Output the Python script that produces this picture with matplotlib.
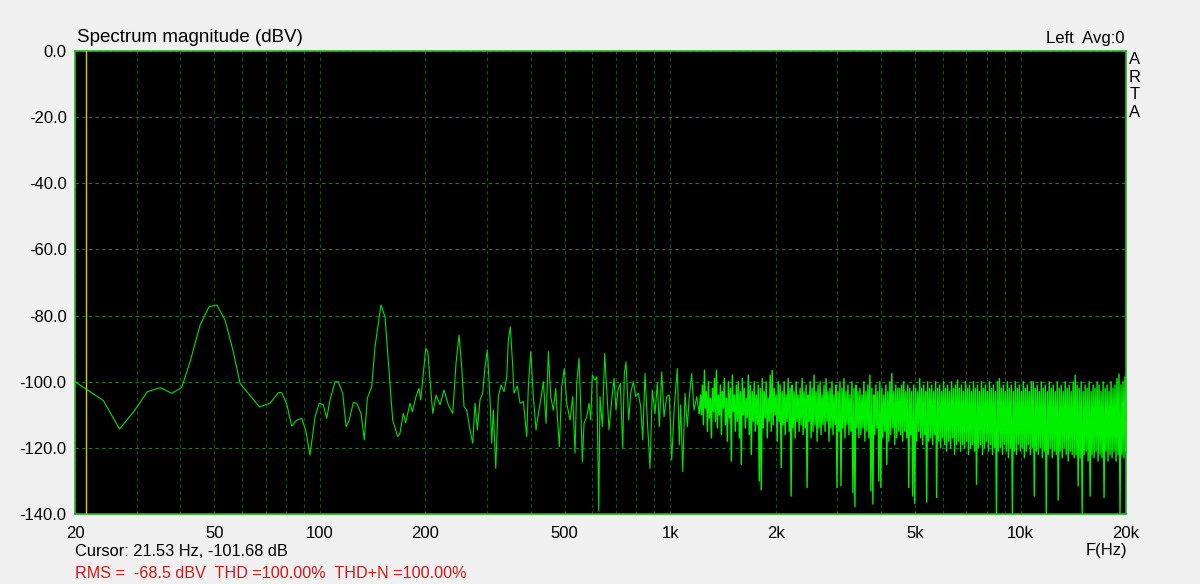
import matplotlib
matplotlib.use("Agg")
import matplotlib.pyplot as plt
import numpy as np
from matplotlib.ticker import FixedLocator, NullFormatter

# spectrum (Hz, dBV)
low_freq = [20.0, 24.1, 26.8, 29.4, 32.2, 35.0, 37.8, 40.3, 42.6, 45.5,
            48.3, 50.8, 53.6, 56.6, 59.2, 67.2, 72.1, 76.1, 77.8, 80.4,
            83.1, 85.9, 88.8, 91.3, 93.7, 96.9, 99.6, 102.3, 104.6, 106.9,
            110.5, 112.9, 116.2, 118.8, 121.3, 124.6, 127.4, 131.1, 133.9, 136.6,
            140.6, 143.7, 149.4, 153.4, 161.4, 166.8, 169.3, 173.0, 175.8, 180.8,
            183.6, 188.1, 191.9, 194.0, 200.6, 203.2, 210.0, 214.6]
low_db = [-100.0, -105.7, -114.3, -109.1, -103.0, -101.8, -103.5, -101.8, -94.0, -82.9,
          -77.3, -76.8, -81.3, -90.9, -100.5, -107.6, -106.5, -103.3, -103.3, -106.7,
          -113.4, -111.6, -111.1, -115.1, -122.2, -110.6, -106.5, -107.0, -111.1, -105.5,
          -100.0, -100.0, -103.5, -113.6, -111.6, -106.3, -106.5, -109.6, -117.6, -105.0,
          -101.5, -89.4, -76.8, -80.3, -111.6, -116.6, -115.6, -109.6, -112.4, -106.5,
          -109.1, -104.5, -102.0, -105.5, -89.9, -90.9, -109.6, -104.0]

mid_freq = [220.3, 226.1, 232.6, 239.5, 244.7, 249.6, 254.1, 257.9, 262.6, 268.3,
            273.1, 277.3, 281.5, 286.5, 291.6, 296.1, 300.6, 306.0, 309.4, 312.7,
            317.7, 323.1, 328.9, 335.5, 341.5, 345.1, 349.7, 355.2, 358.3, 366.1,
            372.7, 380.9, 389.5, 393.6, 399.9, 406.8, 414.0, 420.4, 429.9, 434.4,
            442.2, 448.9, 456.0, 463.9, 471.3, 476.3, 482.6, 490.2, 498.6, 506.6,
            517.7, 527.0, 535.0, 541.0, 549.2, 555.4, 561.3, 567.6, 577.8, 586.6,
            593.2, 599.4, 610.2, 617.0, 625.2, 630.5, 640.1, 650.3, 658.9, 668.9,
            680.9, 691.3, 700.4, 709.6, 720.4, 731.9, 739.6, 747.9, 761.3, 771.4,
            784.7, 797.2, 810.9, 823.8, 834.7, 847.4, 860.3, 875.7, 889.0, 904.9,
            918.7, 930.9, 945.7, 960.1, 977.2, 994.1, 1009.9, 1027.3, 1047.7, 1061.6,
            1071.4, 1085.6, 1102.1, 1118.9, 1133.7, 1151.7, 1169.3, 1190.2, 1210.7]
mid_db = [-107.0, -102.5, -107.0, -109.6, -94.4, -85.9, -95.7, -107.5, -108.6, -114.6,
          -118.6, -106.5, -114.6, -105.5, -103.5, -95.5, -90.4, -105.5, -118.6, -108.6,
          -126.2, -104.5, -101.0, -103.0, -98.5, -87.4, -83.4, -95.5, -103.5, -101.3,
          -106.5, -106.0, -116.6, -101.5, -90.9, -104.5, -114.6, -109.6, -103.5, -100.0,
          -112.6, -90.9, -104.5, -108.6, -102.0, -110.6, -119.6, -101.5, -96.0, -106.5,
          -111.6, -104.5, -121.6, -100.5, -92.9, -107.6, -124.2, -112.6, -110.6, -106.5,
          -111.6, -98.0, -99.5, -98.5, -139.0, -104.5, -113.6, -91.4, -102.5, -114.6,
          -105.5, -99.0, -108.6, -102.5, -100.5, -120.1, -97.5, -94.0, -111.6, -103.5,
          -100.0, -104.5, -103.5, -107.6, -117.6, -97.5, -111.6, -126.2, -102.5, -109.6,
          -100.5, -113.6, -97.0, -110.6, -104.5, -104.0, -123.7, -107.6, -96.0, -119.1,
          -107.0, -127.2, -103.5, -113.6, -104.5, -97.5, -108.6, -104.5, -109.6]

# dense noise floor above ~1.2 kHz, one reading per screen pixel
noise_start_hz = 1220
noise_stop_hz = 20000
noise_db = [
    -104, -110, -101, -113, -96.5, -108, -103, -115, -100, -111, -105, -117, -102, -109, -99, -112, -96.5, -114, -104, -110,
    -101, -116, -103, -108, -99, -113, -105, -118, -100, -111, -102, -124, -98, -109, -104, -115, -101, -112, -100, -117,
    -103, -125, -99, -110, -102, -114, -105, -111, -98, -116, -101, -122, -103, -112, -100, -115, -104, -113, -101, -130,
    -102, -132.7, -99, -114, -103, -111, -100, -117, -105, -112, -98, -115, -96.6, -113, -102, -110, -104, -118, -100, -112,
    -101, -126, -103, -113, -100, -116, -104, -112, -99, -115, -102, -134.6, -101, -114, -103, -117, -100, -112, -104, -115,
    -102, -113, -99, -116, -103, -114, -101, -132, -104, -112, -100, -117, -102, -115, -98, -113, -103, -118, -101, -114,
    -100, -116, -104, -113, -101, -115, -99, -112, -103, -118, -102, -114, -100, -116, -104, -113, -101, -132, -103, -115,
    -100, -131.5, -102, -114, -99, -117, -103, -113, -101, -116, -104, -115, -100, -133.6, -102, -137.8, -101, -114, -103, -117,
    -102, -116, -104, -114, -100, -118, -103, -115, -101, -117, -98, -133, -102, -137, -104, -116, -101, -114, -103, -130,
    -100, -132, -102, -117, -104, -115, -101, -125, -103, -118, -100, -116, -97.5, -114, -103, -119, -101, -117, -102, -115,
    -102, -116, -101, -118, -100, -115, -103, -117, -101, -132, -102, -116, -103, -134.6, -101, -136.8, -102, -118, -103, -115,
    -99, -117, -102, -119, -101, -116, -103, -136.4, -100, -118, -102, -117, -101, -119, -103, -116, -100, -135, -102, -118,
    -101, -120, -103, -117, -100, -119, -102, -121, -101, -118, -103, -120, -100, -117, -102, -122, -101, -119, -99.5, -118,
    -102, -121, -101, -119, -103, -120, -100, -118, -102, -122, -101, -120, -103, -119, -100, -121, -102, -131, -101, -120,
    -103, -119, -100, -122, -102, -120, -101, -118, -103, -121, -100, -119, -102, -122, -101, -120, -103, -140, -100, -121,
    -99, -120, -102, -122, -101, -119, -103, -121, -100, -123, -102, -120, -101, -140, -103, -121, -100, -122, -102, -119,
    -101, -121, -103, -120, -100, -123, -102, -121, -101, -119, -103, -122, -100, -120, -100, -134.6, -102, -121, -101, -122,
    -103, -120, -100, -123, -102, -121, -101, -140, -103, -122, -100, -120, -102, -123, -101, -121, -103, -122, -100, -135.8,
    -102, -121, -101, -123, -103, -120, -100, -122, -102, -124, -101, -121, -103, -122, -100, -123, -98, -122, -101, -131.5,
    -102, -123, -100, -140, -103, -122, -101, -121, -102, -124, -100, -134.6, -103, -122, -101, -123, -102, -121, -100, -124,
    -101, -122, -103, -123, -100, -135, -102, -121, -101, -124, -103, -122, -100, -123, -102, -121, -101, -124, -99, -122,
    -97.7, -140, -101, -122, -100, -123, -98.5, -121,
]

cursor_hz = 21.53
x_ticks = [20, 50, 100, 200, 500, 1000, 2000, 5000, 10000, 20000]
x_labels = ["20", "50", "100", "200", "500", "1k", "2k", "5k", "10k", "20k"]
y_ticks = [0, -20, -40, -60, -80, -100, -120, -140]

plt.rcParams["font.family"] = ["Liberation Sans", "DejaVu Sans"]

W, H = 1200, 584
fig = plt.figure(figsize=(W / 100, H / 100), dpi=100, facecolor="#f0f0f0")
ax = fig.add_axes([75 / W, 1 - 514 / H, (1126 - 75) / W, (514 - 51) / H])
ax.set_facecolor("black")

# sparse part (peaks readable one by one)
ax.plot(low_freq + mid_freq, low_db + mid_db, color="#00e000", lw=0.8, zorder=3)
# dense noise part, joined to the last mid point
noise_freq = np.geomspace(noise_start_hz, noise_stop_hz, len(noise_db))
ax.plot(np.concatenate([[mid_freq[-1]], noise_freq]),
        np.concatenate([[mid_db[-1]], noise_db]),
        color="#00f000", lw=1.0, zorder=3)
ax.axvline(cursor_hz, color="#d4cc00", lw=1, zorder=4)

ax.set_xscale("log")
ax.set_xlim(20, 20000)
ax.set_ylim(-140, 0)
ax.set_xticks(x_ticks)
ax.set_xticklabels(x_labels)
minor = [m * d for d in (10, 100, 1000, 10000) for m in range(2, 10)
         if 20 < m * d < 20000 and m * d not in x_ticks]
ax.xaxis.set_minor_locator(FixedLocator(minor))
ax.xaxis.set_minor_formatter(NullFormatter())
ax.set_yticks(y_ticks)
ax.set_yticklabels(["%.1f" % v for v in y_ticks])

ax.xaxis.grid(True, which="both", color="#0a5a14", ls=(0, (3, 3)), lw=0.8, zorder=1)
ax.yaxis.grid(True, which="major", color="#1c7a36", ls=(0, (3, 3)), lw=0.8, zorder=1)
ax.tick_params(which="both", length=0, labelsize=12, colors="black")
ax.tick_params(axis="x", pad=9)
ax.tick_params(axis="y", pad=6)
for s in ax.spines.values():
    s.set_color("#1cb81c")
    s.set_linewidth(1.2)

def put(x, y, s, **kw):
    fig.text(x / W, 1 - y / H, s, **kw)

put(77, 37, "Spectrum magnitude (dBV)", fontsize=13.5, va="center", ha="left")
put(1125, 38, "Left  Avg:0", fontsize=12, va="center", ha="right")
put(1135, 86, "A\nR\nT\nA", fontsize=12, va="center", ha="center", linespacing=1.22)
put(1106, 551, "F(Hz)", fontsize=12, va="center", ha="center")
put(75, 551, "Cursor: 21.53 Hz, -101.68 dB", fontsize=11.8, va="center", ha="left")
put(75, 573, "RMS =  -68.5 dBV  THD =100.00%  THD+N =100.00%", fontsize=11.6,
    va="center", ha="left", color="#d01818")

fig.savefig("out.png", dpi=100, facecolor=fig.get_facecolor())
